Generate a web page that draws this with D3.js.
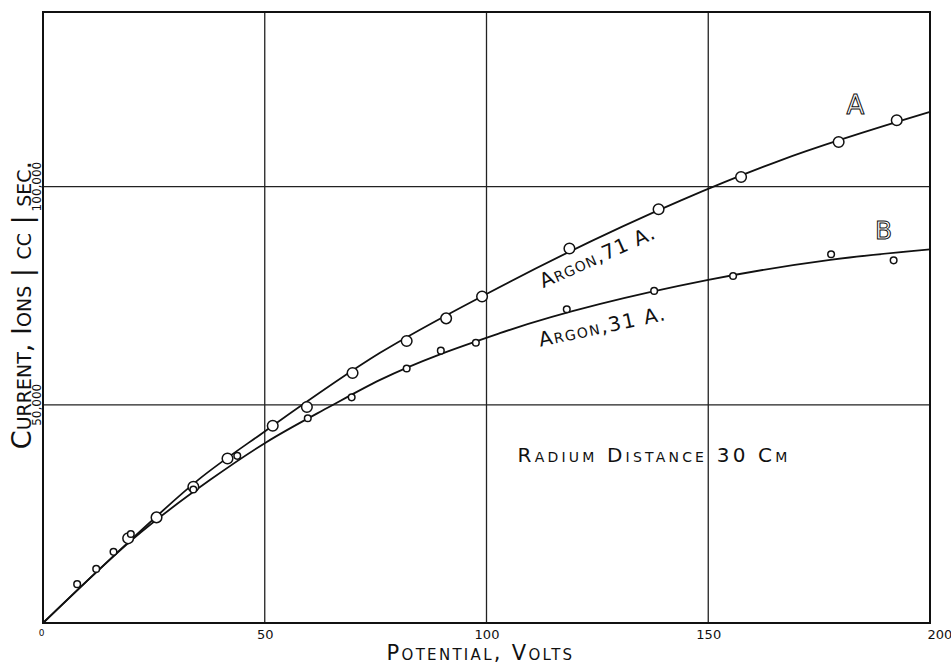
<!DOCTYPE html>
<html lang="en">
<head>
<meta charset="UTF-8">
<title>Argon current vs potential</title>
<style>
  body { margin: 0; background: #fff; }
  svg text { font-family: "DejaVu Sans", "Liberation Sans", sans-serif; fill: #111; }
  .sc { font-variant: small-caps; }
</style>
</head>
<body>
<div id="chart"></div>
<script src="https://cdn.jsdelivr.net/npm/d3@7"></script>
<script>
// measured points, curve A (Argon, 71 A.) - large circles
var pointsAVolts = [19.2, 25.6, 33.9, 41.6, 51.8, 59.5, 69.8, 82.0, 90.9, 99.0, 118.7, 138.8, 157.4, 179.4, 192.5];
var pointsAIons = [19400, 24200, 31200, 37700, 45200, 49500, 57300, 64600, 69800, 74800, 85800, 94800, 102200, 110200, 115200];

// measured points, curve B (Argon, 31 A.) - small circles
var pointsBVolts = [7.7, 12.0, 15.9, 19.8, 33.9, 43.8, 59.7, 69.6, 82.0, 89.7, 97.6, 118.1, 137.8, 155.6, 177.7, 191.8];
var pointsBIons = [8900, 12400, 16300, 20400, 30600, 38300, 46900, 51700, 58300, 62400, 64200, 71900, 76100, 79500, 84500, 83100];

// drawn curves
var curveAVolts = [0, 10, 20, 35, 50, 76, 100, 144, 166, 200];
var curveAIons = [0, 9700, 19200, 32800, 43900, 61900, 75400, 96900, 105900, 117100];
var curveBVolts = [0, 10, 20, 37.7, 50, 64.7, 76, 103, 150, 177.5, 200];
var curveBIons = [0, 9700, 19000, 32800, 41200, 49600, 55700, 66400, 78600, 83200, 85600];

var xTicks = [0, 50, 100, 150, 200];
var yTicks = [50000, 100000];
var yTickLabels = ["50,000", "100,000"];

var W = 951, H = 666;
var margin = { top: 12, right: 21, bottom: 43, left: 43 };
var width = W - margin.left - margin.right,
    height = H - margin.top - margin.bottom;

var svg = d3.select("#chart").append("svg")
  .attr("width", W).attr("height", H);
var g = svg.append("g")
  .attr("transform", "translate(" + margin.left + "," + margin.top + ")");

var x = d3.scaleLinear().domain([0, 200]).range([0, width]);
var y = d3.scaleLinear().domain([0, 140000]).range([height, 0]);

// grid
g.selectAll(".vgrid").data(xTicks.slice(1, -1)).enter().append("line")
  .attr("x1", d => x(d)).attr("x2", d => x(d))
  .attr("y1", 0).attr("y2", height)
  .attr("stroke", "#222").attr("stroke-width", 1.3);
g.selectAll(".hgrid").data(yTicks).enter().append("line")
  .attr("x1", 0).attr("x2", width)
  .attr("y1", d => y(d)).attr("y2", d => y(d))
  .attr("stroke", "#222").attr("stroke-width", 1.3);

// frame
g.append("rect")
  .attr("width", width).attr("height", height)
  .attr("fill", "none").attr("stroke", "#111").attr("stroke-width", 2);

// x axis labels
var xAxis = d3.axisBottom(x).tickValues(xTicks).tickSize(0).tickPadding(7)
  .tickFormat(d3.format("d"));
var xg = g.append("g").attr("transform", "translate(0," + height + ")").call(xAxis);
xg.select(".domain").remove();
xg.selectAll("text").attr("font-size", 13).attr("fill", "#111")
  .style("font-family", "'DejaVu Sans', sans-serif");
xg.selectAll("text").filter(d => d === 0).attr("dx", -2).attr("font-size", 9);
xg.selectAll("text").filter(d => d === 200).attr("text-anchor", "start").attr("dx", -3);

// y tick labels (rotated)
g.selectAll(".ylab").data(yTicks).enter().append("text")
  .attr("transform", d => "translate(-2," + y(d) + ") rotate(-90)")
  .attr("text-anchor", "middle")
  .attr("font-size", 12)
  .text((d, i) => yTickLabels[i]);

// curves
var line = d3.line().x(d => x(d[0])).y(d => y(d[1])).curve(d3.curveMonotoneX);
g.append("path")
  .datum(curveAVolts.map((v, i) => [v, curveAIons[i]]))
  .attr("d", line).attr("fill", "none").attr("stroke", "#111").attr("stroke-width", 1.8);
g.append("path")
  .datum(curveBVolts.map((v, i) => [v, curveBIons[i]]))
  .attr("d", line).attr("fill", "none").attr("stroke", "#111").attr("stroke-width", 1.8);

// markers
g.selectAll(".ptA").data(pointsAVolts.map((v, i) => [v, pointsAIons[i]])).enter()
  .append("circle")
  .attr("cx", d => x(d[0])).attr("cy", d => y(d[1])).attr("r", 5.3)
  .attr("fill", "#fff").attr("stroke", "#111").attr("stroke-width", 1.5);
g.selectAll(".ptB").data(pointsBVolts.map((v, i) => [v, pointsBIons[i]])).enter()
  .append("circle")
  .attr("cx", d => x(d[0])).attr("cy", d => y(d[1])).attr("r", 3.3)
  .attr("fill", "#fff").attr("stroke", "#111").attr("stroke-width", 1.5);

// curve letters (outlined)
g.append("text").attr("x", x(181.2)).attr("y", y(116600))
  .attr("font-size", 26).attr("stroke", "#111").attr("stroke-width", 1)
  .style("fill", "#fff").text("A");
g.append("text").attr("x", x(187.6)).attr("y", y(88100))
  .attr("font-size", 25).attr("stroke", "#111").attr("stroke-width", 1)
  .style("fill", "#fff").text("B");

// curve names along lines
g.append("text").attr("class", "sc")
  .attr("transform", "translate(" + x(112.8) + "," + y(76700) + ") rotate(-24)")
  .attr("font-size", 20).attr("letter-spacing", 1).text("Argon,71 A.");
g.append("text").attr("class", "sc")
  .attr("transform", "translate(" + x(112.1) + "," + y(63300) + ") rotate(-12)")
  .attr("font-size", 20).attr("letter-spacing", 1.5).text("Argon,31 A.");

g.append("text").attr("class", "sc")
  .attr("x", x(107)).attr("y", y(37000))
  .attr("font-size", 20).attr("letter-spacing", 3.2).text("Radium Distance 30 Cm");

// axis titles
svg.append("text").attr("class", "sc")
  .attr("x", margin.left + x(100) - 6).attr("y", 660)
  .attr("text-anchor", "middle").attr("font-size", 21).attr("letter-spacing", 2.3)
  .text("Potential, Volts");
svg.append("text").attr("class", "sc")
  .attr("transform", "translate(31," + 305 + ") rotate(-90)")
  .attr("text-anchor", "middle").attr("font-size", 27)
  .text("Current, Ions | cc | sec.");
</script>
</body>
</html>
